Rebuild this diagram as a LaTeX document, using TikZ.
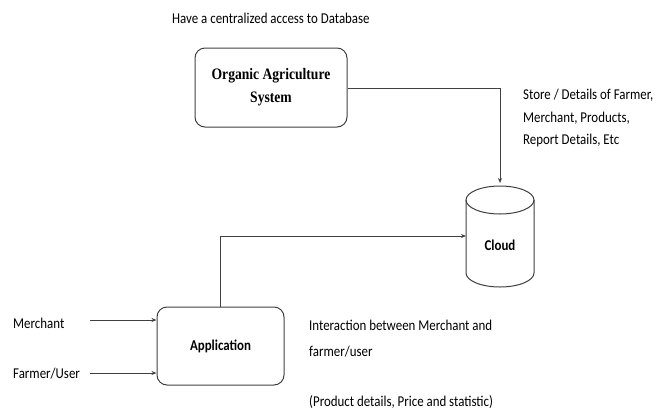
\documentclass[tikz,border=0pt]{standalone}
\usepackage{fontspec}
\setmainfont{Carlito}[FakeStretch=0.86]
\newfontfamily\serifb{Liberation Serif}[FakeStretch=0.85]
\usetikzlibrary{arrows.meta}
\begin{document}
\begin{tikzpicture}[x=1pt,y=-1pt,
  box/.style={draw=black!75, rounded corners=10pt, line width=1pt, inner sep=0pt},
  lbl/.style={font=\fontsize{15}{22.5}\selectfont, inner sep=0pt, align=left, text=black},
  conn/.style={draw=black!75, line width=0.9pt, -{Stealth[length=5pt,width=4pt]}}]
\useasboundingbox (0,0) rectangle (659,413);
% title
\node[lbl, anchor=west] (title) at (172,18) {Have a centralized access to Database};
% Organic Agriculture System
\node[box, minimum width=152pt, minimum height=79pt, align=center,
      font=\serifb\bfseries\fontsize{16}{23}\selectfont] (oas) at (271,87.5) {Organic Agriculture\\System};
% store text
\node[lbl, anchor=west] (store) at (523,118) {Store / Details of Farmer,\\Merchant, Products,\\Report Details, Etc};
% cloud cylinder
\coordinate (cyltop) at (500,183);
\coordinate (cylleft) at (466,236);
\draw[black!75, line width=1pt, fill=white] (466,200) -- (466,273) arc[start angle=180, end angle=360, x radius=34, y radius=-14] -- (534,200);
\draw[black!75, line width=1pt] (500,200) ellipse[x radius=34, y radius=14];
\node[lbl, font=\bfseries\fontsize{15}{18}\selectfont] (cloud) at (500,245) {Cloud};
% application
\node[box, minimum width=127pt, minimum height=78pt, font=\bfseries\fontsize{15}{18}\selectfont] (app) at (220.5,346) {Application};
\node[lbl, anchor=west] (merchant) at (13,323) {Merchant};
\node[lbl, anchor=west] (farmer) at (13,374) {Farmer/User};
\coordinate (m0) at (90,320);
\coordinate (f0) at (90,373);
\draw[conn] (m0) -- (m0 -| app.west);
\draw[conn] (f0) -- (f0 -| app.west);
% interaction text
\node[lbl, anchor=west, font=\fontsize{15}{26}\selectfont] (inter) at (309,338.5) {Interaction between Merchant and\\farmer/user};
\node[lbl, anchor=west] (prod) at (309,402) {(Product details, Price and statistic)};
% connectors
\draw[conn] (oas.east |- 0,88) -| (cyltop);
\draw[conn] (app.north -| 220,0) |- (cylleft);
\end{tikzpicture}
\end{document}
